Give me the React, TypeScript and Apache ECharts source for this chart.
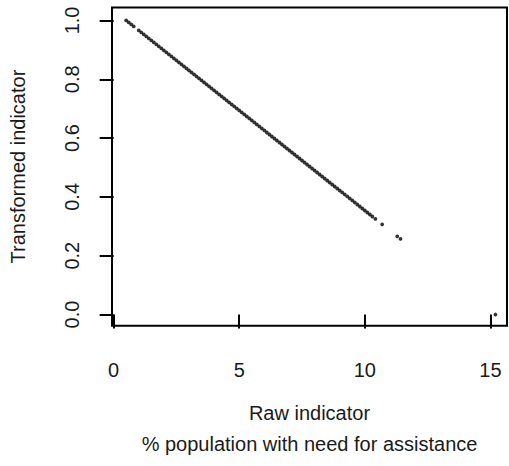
import React, { useEffect, useRef } from "react";
import * as echarts from "echarts";

// Raw indicator (% population with need for assistance)
const rawValues = [
  0.5, 0.6, 0.7, 0.8,
  1.0, 1.1, 1.2, 1.3, 1.4, 1.5, 1.6, 1.7, 1.8, 1.9,
  2.0, 2.1, 2.2, 2.3, 2.4, 2.5, 2.6, 2.7, 2.8, 2.9,
  3.0, 3.1, 3.2, 3.3, 3.4, 3.5, 3.6, 3.7, 3.8, 3.9,
  4.0, 4.1, 4.2, 4.3, 4.4, 4.5, 4.6, 4.7, 4.8, 4.9,
  5.0, 5.1, 5.2, 5.3, 5.4, 5.5, 5.6, 5.7, 5.8, 5.9,
  6.0, 6.1, 6.2, 6.3, 6.4, 6.5, 6.6, 6.7, 6.8, 6.9,
  7.0, 7.1, 7.2, 7.3, 7.4, 7.5, 7.6, 7.7, 7.8, 7.9,
  8.0, 8.1, 8.2, 8.3, 8.4, 8.5, 8.6, 8.7, 8.8, 8.9,
  9.0, 9.1, 9.2, 9.3, 9.4, 9.5, 9.6, 9.7, 9.8, 9.9,
  10.0, 10.1, 10.2, 10.3,
  10.42, 10.69, 11.29, 11.42,
  15.2,
];

// Transformed indicator
const transformedValues = [
  1.0, 0.9932, 0.9864, 0.9796,
  0.966, 0.9592, 0.9524, 0.9456, 0.9388, 0.932, 0.9252, 0.9184, 0.9116, 0.9048,
  0.898, 0.8912, 0.8844, 0.8776, 0.8707, 0.8639, 0.8571, 0.8503, 0.8435, 0.8367,
  0.8299, 0.8231, 0.8163, 0.8095, 0.8027, 0.7959, 0.7891, 0.7823, 0.7755, 0.7687,
  0.7619, 0.7551, 0.7483, 0.7415, 0.7347, 0.7279, 0.7211, 0.7143, 0.7075, 0.7007,
  0.6939, 0.6871, 0.6803, 0.6735, 0.6667, 0.6599, 0.6531, 0.6463, 0.6395, 0.6327,
  0.6259, 0.619, 0.6122, 0.6054, 0.5986, 0.5918, 0.585, 0.5782, 0.5714, 0.5646,
  0.5578, 0.551, 0.5442, 0.5374, 0.5306, 0.5238, 0.517, 0.5102, 0.5034, 0.4966,
  0.4898, 0.483, 0.4762, 0.4694, 0.4626, 0.4558, 0.449, 0.4422, 0.4354, 0.4286,
  0.4218, 0.415, 0.4082, 0.4014, 0.3946, 0.3878, 0.381, 0.3741, 0.3673, 0.3605,
  0.3537, 0.3469, 0.3401, 0.3333,
  0.3252, 0.3068, 0.266, 0.2571,
  0.0,
];

const xTicks = [0, 5, 10, 15];
const yTicks = [0, 0.2, 0.4, 0.6, 0.8, 1.0];

const xTitle = "Raw indicator\n% population with need for assistance";
const yTitle = "Transformed indicator";

export default function App() {
  const ref = useRef<HTMLDivElement>(null);

  useEffect(() => {
    if (!ref.current) return;
    const chart = echarts.init(ref.current, undefined, { renderer: "svg" });
    const font = "Liberation Sans, Arial, Helvetica, sans-serif";
    const textColor = "#1a1a1a";
    const data = rawValues.map((x, i) => [x, transformedValues[i]]);

    chart.setOption({
      animation: false,
      backgroundColor: "#ffffff",
      grid: {
        left: 111,
        right: 2,
        top: 7.5,
        bottom: 140.3,
        show: true,
        borderColor: "#000000",
        borderWidth: 2,
        backgroundColor: "transparent",
      },
      xAxis: {
        type: "value",
        min: -0.065,
        max: 15.66,
        axisLine: { show: false },
        splitLine: { show: false },
        axisTick: {
          show: true,
          customValues: xTicks,
          length: 14,
          lineStyle: { color: "#000000", width: 2 },
        },
        axisLabel: {
          customValues: xTicks,
          fontSize: 20,
          fontFamily: font,
          color: textColor,
          margin: 34,
          formatter: (v: number) => String(v),
        },
        name: xTitle,
        nameLocation: "middle",
        nameGap: 72,
        nameTextStyle: {
          fontSize: 20,
          fontFamily: font,
          color: textColor,
          lineHeight: 31,
        },
      },
      yAxis: {
        type: "value",
        min: -0.038,
        max: 1.044,
        axisLine: { show: false },
        splitLine: { show: false },
        axisTick: {
          show: true,
          customValues: yTicks,
          length: 14,
          lineStyle: { color: "#000000", width: 2 },
        },
        axisLabel: {
          customValues: yTicks,
          fontSize: 20,
          fontFamily: font,
          color: textColor,
          margin: 30,
          rotate: 90,
          formatter: (v: number) => v.toFixed(1),
        },
        name: yTitle,
        nameLocation: "middle",
        nameGap: 84,
        nameRotate: 90,
        nameTextStyle: {
          fontSize: 20,
          fontFamily: font,
          color: textColor,
        },
      },
      series: [
        {
          type: "scatter",
          data,
          symbol: "circle",
          symbolSize: 3.8,
          itemStyle: { color: "#000000" },
          silent: true,
        },
      ],
    });

    return () => chart.dispose();
  }, []);

  return (
    <div
      ref={ref}
      style={{ position: "fixed", left: 0, top: 0, width: 509, height: 466 }}
    />
  );
}
